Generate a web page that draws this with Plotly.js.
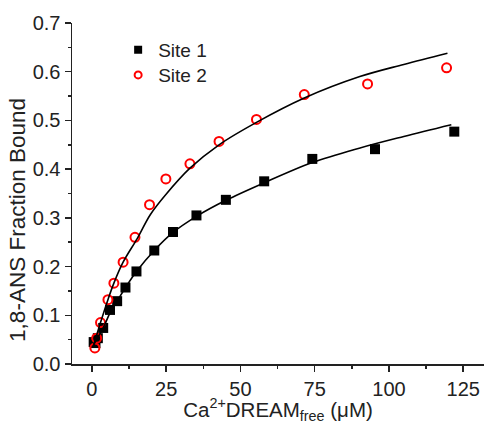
<!DOCTYPE html>
<html>
<head>
<meta charset="utf-8">
<script src="https://cdn.plot.ly/plotly-3.0.1.min.js"></script>
<style>html,body{margin:0;padding:0;background:#fff;}#chart{width:488px;height:424px;}</style>
</head>
<body>
<div id="chart"></div>
<script>
// Measured data
const site1X = [0.6, 1.2, 2.0, 3.8, 6.1, 8.5, 11.3, 15.0, 21.0, 27.3, 35.2, 45.1, 58.0, 74.2, 95.3, 122.0];
const site1Y = [0.045, 0.043, 0.053, 0.074, 0.111, 0.129, 0.157, 0.190, 0.233, 0.271, 0.305, 0.337, 0.375, 0.421, 0.441, 0.477];
const site2X = [1.0, 1.6, 2.9, 5.4, 7.4, 10.5, 14.5, 19.4, 24.9, 33.0, 42.8, 55.4, 71.5, 92.8, 119.4];
const site2Y = [0.033, 0.053, 0.085, 0.132, 0.166, 0.209, 0.260, 0.327, 0.380, 0.411, 0.457, 0.502, 0.553, 0.575, 0.608];
// Fitted curves
const fit1X = [0.6, 3.8, 6.1, 8.5, 11.3, 15.0, 21.0, 27.3, 35.2, 45.1, 58.0, 74.0, 90.0, 105.0, 121.0];
const fit1Y = [0.040, 0.074, 0.105, 0.129, 0.157, 0.190, 0.233, 0.270, 0.303, 0.336, 0.372, 0.413, 0.443, 0.467, 0.491];
const fit2X = [0.5, 2.9, 5.4, 7.4, 10.5, 15.3, 19.7, 24.9, 33.0, 42.8, 55.4, 71.5, 90.2, 105.0, 119.7];
const fit2Y = [0.036, 0.085, 0.132, 0.166, 0.209, 0.258, 0.307, 0.348, 0.402, 0.450, 0.496, 0.546, 0.590, 0.615, 0.638];
const seriesNames = ["Site 1", "Site 2"];
const xTicks = [0, 25, 50, 75, 100, 125];
const yTicks = [0.0, 0.1, 0.2, 0.3, 0.4, 0.5, 0.6, 0.7];
const xTitle = "Ca<sup>2+</sup>DREAM<sub>free</sub> (μM)";
const yTitle = "1,8-ANS Fraction Bound";

const FONT = "Liberation Sans, Arial, sans-serif";
const traces = [
  {x: site1X, y: site1Y, type: "scatter", mode: "markers", showlegend: false,
   marker: {symbol: "square", size: 10, color: "#000"}},
  {x: site2X, y: site2Y, type: "scatter", mode: "markers", showlegend: false,
   marker: {symbol: "circle-open", size: 9, color: "#ff0000", line: {width: 2, color: "#ff0000"}}},
  {x: fit1X, y: fit1Y, type: "scatter", mode: "lines", showlegend: false,
   line: {color: "#000", width: 1.6, shape: "spline", smoothing: 1}},
  {x: fit2X, y: fit2Y, type: "scatter", mode: "lines", showlegend: false,
   line: {color: "#000", width: 1.6, shape: "spline", smoothing: 1}},
  {x: [null], y: [null], type: "scatter", mode: "markers", name: seriesNames[0], legend: "legend",
   marker: {symbol: "square", size: 8, color: "#000"}},
  {x: [null], y: [null], type: "scatter", mode: "markers", name: seriesNames[1], legend: "legend2",
   marker: {symbol: "circle-open", size: 7, color: "#ff0000", line: {width: 2, color: "#ff0000"}}}
];

const legendStyle = {xanchor: "left", yanchor: "top", bgcolor: "rgba(0,0,0,0)",
                     font: {family: FONT, size: 19, color: "#222"}};
const layout = {
  width: 488, height: 424,
  margin: {l: 72, r: 4, t: 23, b: 60},
  paper_bgcolor: "#fff", plot_bgcolor: "#fff",
  font: {family: FONT, size: 20, color: "#222"},
  showlegend: true,
  legend: Object.assign({x: 0.112, y: 0.9765}, legendStyle),
  legend2: Object.assign({x: 0.112, y: 0.903}, legendStyle),
  xaxis: {
    range: [-6.7, 132], tickvals: xTicks, ticktext: xTicks.map(String),
    ticks: "outside", ticklen: 6, tickwidth: 1.5, tickcolor: "#222",
    showline: true, linewidth: 1.5, linecolor: "#222", mirror: false,
    showgrid: false, zeroline: false,
    minor: {dtick: 12.5, tick0: 0, ticks: "outside", ticklen: 3, tickwidth: 1.5, tickcolor: "#222", showgrid: false},
    tickfont: {family: FONT, size: 20, color: "#222"},
    title: {text: xTitle, font: {family: FONT, size: 20.5, color: "#222"}, standoff: 6}
  },
  yaxis: {
    range: [0, 0.7], tickvals: yTicks, ticktext: yTicks.map(v => v.toFixed(1)),
    ticks: "outside", ticklen: 6, tickwidth: 1.5, tickcolor: "#222",
    showline: true, linewidth: 1.5, linecolor: "#222", mirror: false,
    showgrid: false, zeroline: false,
    minor: {dtick: 0.05, tick0: 0, ticks: "outside", ticklen: 3, tickwidth: 1.5, tickcolor: "#222", showgrid: false},
    tickfont: {family: FONT, size: 20, color: "#222"}
  },
  annotations: [{
    text: yTitle, xref: "paper", yref: "paper", x: -0.134, y: 0.422,
    xanchor: "center", yanchor: "middle", textangle: -90, showarrow: false,
    font: {family: FONT, size: 22.5, color: "#222"}
  }]
};
Plotly.newPlot("chart", traces, layout, {displayModeBar: false, staticPlot: true});
</script>
</body>
</html>
